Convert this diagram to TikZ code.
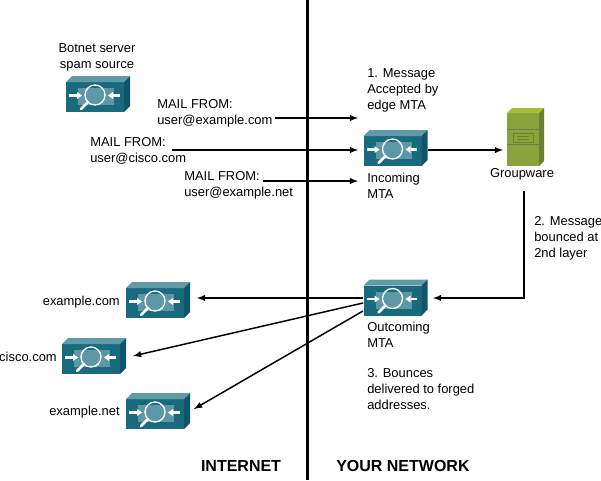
\documentclass[tikz,border=0pt]{standalone}
\usepackage{fontspec}
\setmainfont{Liberation Sans}
\definecolor{mtafront}{HTML}{1A6A7E}
\definecolor{mtatop}{HTML}{5F9AA8}
\definecolor{mtaside}{HTML}{0F5468}
\definecolor{mtapanel}{HTML}{5E97A6}
\definecolor{warefront}{HTML}{8CA23C}
\definecolor{waretop}{HTML}{A3BF3A}
\definecolor{wareside}{HTML}{6B8030}
\tikzset{
	x=0.75pt,y=-0.75pt,
	label/.style={inner sep=0pt,align=left,font=\fontsize{9.7}{12}\selectfont},
	title/.style={inner sep=0pt,font=\fontsize{12}{14}\selectfont\bfseries},
	flow/.style={-latex,line width=1.1pt},
	mta/.pic={
		\fill[mtafront] (-29,-15) rectangle (29,15);
		\fill[mtatop] (-29,-15) -- (-23,-21) -- (35,-21) -- (29,-15) -- cycle;
		\fill[mtaside] (29,-15) -- (35,-21) -- (35,9) -- (29,15) -- cycle;
		\fill[mtapanel] (-17,-9) rectangle (19,8);
		\draw[mtafront!70!white,line width=0.4pt] (-17,-9) -- (1,1) -- (19,-9);
		\draw[white,line width=1.6pt] (-26,-1.5) -- (-18,-1.5);
		\fill[white] (-13,-1.5) -- (-18,-5) -- (-18,2) -- cycle;
		\draw[white,line width=1.6pt] (24.5,-1.5) -- (18,-1.5);
		\fill[white] (13,-1.5) -- (18,-5) -- (18,2) -- cycle;
		\draw[white,line width=2pt,line cap=round] (-7,5) -- (-14,12);
		\draw[white,line width=1pt] (0,-2) circle (10);
		\node[inner sep=0pt,minimum width=43.5pt,minimum height=22.5pt] (-body) at (0,0) {};
	},
	ware/.pic={
		\fill[warefront] (-16,-26.5) rectangle (16,26.5);
		\fill[waretop] (-16,-26.5) -- (-11,-31.5) -- (21,-31.5) -- (16,-26.5) -- cycle;
		\fill[wareside] (16,-26.5) -- (21,-31.5) -- (21,21.5) -- (16,26.5) -- cycle;
		\foreach \y in {-10.5,4.5}
		{
			\draw[wareside!70!gray,line width=0.7pt] (-16,\y) -- (16,\y);
		}
		\draw[wareside,line width=0.7pt] (-10,-6.5) rectangle (10,2.5);
		\foreach \y in {-3.5,-0.5}
		{
			\draw[wareside,line width=0.4pt] (-6,\y) -- (6,\y);
		}
		\node[inner sep=0pt,minimum width=24pt,minimum height=39.75pt] (-body) at (0,0) {};
	}
}
\begin{document}
\begin{tikzpicture}
\useasboundingbox (0,0) rectangle (601,480);
\draw[line width=2.3pt] (307.5,0) -- (307.5,480);
\pic (botnet) at (95,97) {mta};
\pic (incoming) at (392.5,151) {mta};
\pic (outgoing) at (392.5,300.5) {mta};
\pic (excom) at (155,303) {mta};
\pic (cisco) at (91,359) {mta};
\pic (exnet) at (155,414) {mta};
\pic (groupware) at (523,139.5) {ware};
\node[label,align=center] (botnetlabel) at (97,57) {Botnet server\\spam source};
\node[label,anchor=west] (edgelabel) at (367,90) {1. Message\\Accepted by\\edge MTA};
\node[label,anchor=west] (mailcom) at (157,113) {MAIL FROM:\\user@example.com};
\node[label,anchor=west] (mailcisco) at (90,150.5) {MAIL FROM:\\user@cisco.com};
\node[label,anchor=west] (mailnet) at (184,185.5) {MAIL FROM:\\user@example.net};
\node[label,anchor=west] (inlabel) at (367,186) {Incoming\\MTA};
\node[label] (warelabel) at (522,174) {Groupware};
\node[label,anchor=west] (bouncelabel) at (534,238) {2. Message\\bounced at\\2nd layer};
\node[label,anchor=west] (outlabel) at (367,335) {Outcoming\\MTA};
\node[label,anchor=west] (forgedlabel) at (367,389) {3. Bounces\\delivered to forged\\addresses.};
\node[label,anchor=east] (comlabel) at (120,302) {example.com};
\node[label,anchor=east] (ciscolabel) at (57,357) {cisco.com};
\node[label,anchor=east] (netlabel) at (120,412) {example.net};
\node[title] (internet) at (241,466) {INTERNET};
\node[title,anchor=west] (yournet) at (336,466) {YOUR NETWORK};
% free ends of the arrows
\coordinate (topfrom) at (275,118);
\coordinate (topto) at (358,118);
\coordinate (midfrom) at (172,150);
\coordinate (midto) at (358,150);
\coordinate (lowfrom) at (263,181);
\coordinate (lowto) at (358,181);
\coordinate (inright) at (428,150);
\coordinate (wareleft) at (503,150);
\coordinate (warefoot) at (524,191);
\coordinate (warebend) at (524,298);
\coordinate (outright) at (433,298);
\coordinate (outleft) at (363,298);
\coordinate (comend) at (197,298);
\coordinate (ciscofrom) at (363,303);
\coordinate (ciscoend) at (133,356);
\coordinate (netfrom) at (363,311);
\coordinate (netend) at (194,409);
\draw[flow] (topfrom) -- (topto);
\draw[flow] (midfrom) -- (midto);
\draw[flow] (lowfrom) -- (lowto);
\draw[flow] (inright) -- (wareleft);
\draw[flow] (warefoot) -- (warebend) -- (outright);
\draw[flow] (outleft) -- (comend);
\draw[flow] (ciscofrom) -- (ciscoend);
\draw[flow] (netfrom) -- (netend);
\end{tikzpicture}
\end{document}
